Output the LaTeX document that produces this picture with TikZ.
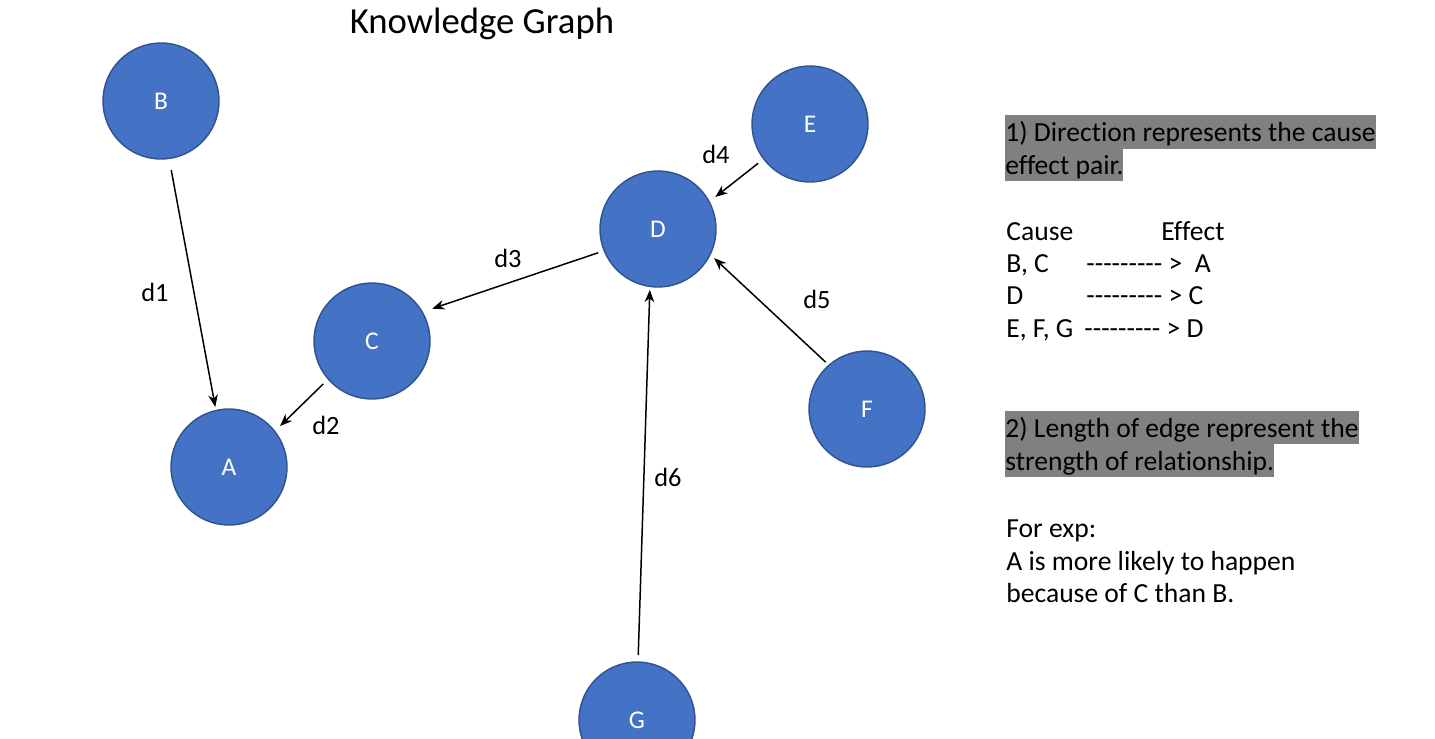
\documentclass[tikz,border=0pt]{standalone}
\usepackage{fontspec}
\newfontfamily\calibri{Carlito}[Ligatures=NoCommon]
\usetikzlibrary{arrows.meta}
\definecolor{nodeblue}{HTML}{4472C4}
\definecolor{nodeedge}{HTML}{2F528F}
\definecolor{hlgray}{HTML}{808080}

\begin{document}
\begin{tikzpicture}[x=0.02cm, y=-0.02cm,
    vertex/.style={circle, draw=nodeedge, line width=0.8pt, fill=nodeblue, minimum size=2.32cm, inner sep=0pt, outer sep=0pt, text=white, font=\calibri\fontsize{14.5pt}{17pt}\selectfont},
    dlabel/.style={font=\calibri\fontsize{15pt}{18pt}\selectfont},
    link/.style={-{Stealth[length=7pt, width=5.5pt]}, line width=0.85pt},
    note/.style={anchor=base west, inner sep=0pt, font=\calibri\fontsize{15.7pt}{18.5pt}\selectfont},
    marked/.style={note, fill=hlgray, text height=15pt, text depth=4pt}]
        \useasboundingbox (0, 0) rectangle (1435, 738);
        \clip (0, 0) rectangle (1435, 738);

        \node[anchor=base, font=\calibri\fontsize{20.9pt}{25pt}\selectfont] (title) at (482, 33) {Knowledge Graph};

        \node[vertex] (B) at (161, 101) {B};
        \node[vertex] (A) at (229, 467) {A};
        \node[vertex] (C) at (372, 341) {C};
        \node[vertex] (D) at (658, 229) {D};
        \node[vertex] (E) at (810, 124) {E};
        \node[vertex] (F) at (867, 409) {F};
        \node[vertex] (G) at (637, 720) {G};

        \draw[link, shorten <=0.234cm, shorten >=0.072cm] (B.278) -- (A.103);
        \draw[link, shorten <=0.14cm, shorten >=0.15cm] (C.221) -- (A.38);
        \draw[link, shorten <=0.13cm, shorten >=0.21cm] (D.202) -- (C.30);
        \draw[link, shorten <=0.14cm, shorten >=0.156cm] (E.217) -- (D.28);
        \draw[link, shorten <=0.09cm, shorten >=0.11cm] (F.131) -- (D.334);
        \draw[link, shorten <=0.14cm, shorten >=0.07cm] (G.89) -- (D.262);

        \node[dlabel] (d1) at (155, 292) {d1};
        \node[dlabel] (d2) at (326, 425) {d2};
        \node[dlabel] (d3) at (508, 258) {d3};
        \node[dlabel] (d4) at (716, 154) {d4};
        \node[dlabel] (d5) at (817, 299) {d5};
        \node[dlabel] (d6) at (668, 477) {d6};

        \node[marked] (rule1a) at (1005, 141.7) {1) Direction represents the cause\ };
        \node[marked] (rule1b) at (1005, 174) {effect pair.};
        \node[note] (cause) at (1006, 240) {Cause};
        \node[note] (effect) at (1161, 240) {Effect};
        \node[note] (row1l) at (1006, 272) {B, C};
        \node[note] (row1r) at (1086, 272) {--------- >\ \ A};
        \node[note] (row2l) at (1006, 304) {D};
        \node[note] (row2r) at (1086, 304) {--------- > C};
        \node[note] (row3l) at (1006, 337) {E, F, G};
        \node[note] (row3r) at (1084, 337) {--------- > D};

        \node[marked] (rule2a) at (1005, 437.3) {2) Length of edge represent the\ };
        \node[marked] (rule2b) at (1005, 470) {strength of relationship.};
        \node[note] (exp1) at (1006, 537.3) {For exp:};
        \node[note] (exp2) at (1006, 570) {A is more likely to happen};
        \node[note] (exp3) at (1006, 602.7) {because of C than B.};
    \end{tikzpicture}
\end{document}
